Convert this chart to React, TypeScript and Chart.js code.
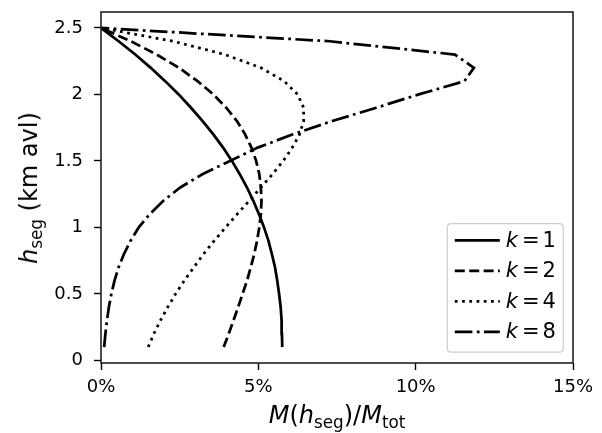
import React, { useEffect, useRef } from "react";
import { Chart, registerables } from "chart.js";

Chart.register(...registerables);

// Segment heights (km avl)
const heights = [0.1, 0.2, 0.3, 0.4, 0.5, 0.6, 0.7, 0.8, 0.9, 1.0, 1.1, 1.2, 1.3, 1.4, 1.5, 1.6, 1.7, 1.8, 1.9, 2.0, 2.1, 2.2, 2.3, 2.4, 2.5];

// M(h_seg)/M_tot in percent, one list per k
const massK1 = [5.76, 5.75, 5.74, 5.71, 5.66, 5.60, 5.53, 5.43, 5.32, 5.18, 5.02, 4.84, 4.64, 4.41, 4.16, 3.88, 3.57, 3.23, 2.86, 2.47, 2.04, 1.58, 1.09, 0.56, 0];
const massK2 = [3.90, 4.06, 4.21, 4.36, 4.50, 4.64, 4.76, 4.87, 4.96, 5.03, 5.08, 5.10, 5.08, 5.03, 4.93, 4.78, 4.58, 4.32, 3.98, 3.57, 3.07, 2.48, 1.77, 0.95, 0];
const massK4 = [1.50, 1.68, 1.89, 2.12, 2.37, 2.65, 2.95, 3.26, 3.60, 3.96, 4.33, 4.71, 5.08, 5.45, 5.79, 6.08, 6.31, 6.44, 6.44, 6.25, 5.82, 5.09, 3.94, 2.29, 0];
const massK8 = [0.10, 0.14, 0.19, 0.25, 0.33, 0.43, 0.56, 0.73, 0.94, 1.20, 1.55, 1.98, 2.52, 3.22, 4.10, 4.98, 6.10, 7.35, 8.75, 10.10, 11.55, 11.85, 11.25, 7.27, 0];

const kLabels = ["1", "2", "4", "8"];
const seriesValues = [massK1, massK2, massK4, massK8];

const xTicks = [0, 5, 10, 15];
const yTicks = [0, 0.5, 1, 1.5, 2, 2.5];

const FONT = '"DejaVu Sans", sans-serif';
const LW = 2.75;
const dashes = [[], [10, 4.4], [2.75, 4.5], [17.6, 4.4, 2.75, 4.4]];

const framePlugin = {
  id: "frame",
  afterDatasetsDraw(chart: any) {
    const { ctx, chartArea } = chart;
    ctx.save();
    ctx.strokeStyle = "#222";
    ctx.lineWidth = 1.6;
    ctx.setLineDash([]);
    ctx.strokeRect(chartArea.left, chartArea.top, chartArea.right - chartArea.left, chartArea.bottom - chartArea.top);
    ctx.restore();
  },
};

const legendPlugin = {
  id: "mplLegend",
  afterDraw(chart: any) {
    const { ctx, chartArea } = chart;
    const w = 116;
    const h = 128.5;
    const x0 = chartArea.right - 9.7 - w;
    const y0 = chartArea.bottom - 10.8 - h;
    const r = 4;
    ctx.save();
    ctx.beginPath();
    ctx.moveTo(x0 + r, y0);
    ctx.lineTo(x0 + w - r, y0);
    ctx.quadraticCurveTo(x0 + w, y0, x0 + w, y0 + r);
    ctx.lineTo(x0 + w, y0 + h - r);
    ctx.quadraticCurveTo(x0 + w, y0 + h, x0 + w - r, y0 + h);
    ctx.lineTo(x0 + r, y0 + h);
    ctx.quadraticCurveTo(x0, y0 + h, x0, y0 + h - r);
    ctx.lineTo(x0, y0 + r);
    ctx.quadraticCurveTo(x0, y0, x0 + r, y0);
    ctx.closePath();
    ctx.fillStyle = "rgba(255,255,255,0.85)";
    ctx.fill();
    ctx.strokeStyle = "#cccccc";
    ctx.lineWidth = 1.2;
    ctx.stroke();

    chart.data.datasets.forEach((ds: any, i: number) => {
      const cy = y0 + 16.7 + i * 30.5;
      ctx.beginPath();
      ctx.setLineDash(ds.borderDash || []);
      ctx.lineDashOffset = 0;
      ctx.lineWidth = ds.borderWidth;
      ctx.strokeStyle = "#000";
      ctx.lineCap = "butt";
      ctx.moveTo(x0 + 7.5, cy);
      ctx.lineTo(x0 + 52.5, cy);
      ctx.stroke();
      ctx.setLineDash([]);
      ctx.fillStyle = "#000";
      ctx.textBaseline = "middle";
      ctx.textAlign = "left";
      let tx = x0 + 58.5;
      ctx.font = `italic 21px ${FONT}`;
      ctx.fillText("k", tx, cy + 1);
      tx += ctx.measureText("k").width + 4;
      ctx.font = `21px ${FONT}`;
      ctx.fillText("=", tx, cy + 1);
      tx += ctx.measureText("=").width + 3;
      ctx.fillText(kLabels[i], tx, cy + 1);
    });
    ctx.restore();
  },
};

export default function App() {
  const canvasRef = useRef<HTMLCanvasElement | null>(null);

  useEffect(() => {
    const canvas = canvasRef.current;
    if (!canvas) return;
    const chart = new Chart(canvas, {
      type: "scatter",
      data: {
        datasets: seriesValues.map((vals, i) => ({
          label: `k = ${kLabels[i]}`,
          data: heights.map((hh, j) => ({ x: vals[j], y: hh })),
          showLine: true,
          borderColor: "#000",
          backgroundColor: "#000",
          borderWidth: LW,
          borderDash: dashes[i],
          borderCapStyle: "butt",
          pointRadius: 0,
          pointHoverRadius: 0,
          fill: false,
          tension: 0,
        })),
      },
      options: {
        responsive: false,
        animation: false,
        events: [],
        layout: { padding: { top: 12, right: 29, left: 0, bottom: 0 } },
        plugins: {
          legend: { display: false },
          tooltip: { enabled: false },
        },
        scales: {
          x: {
            type: "linear",
            min: 0,
            max: 15,
            afterFit(scale: any) {
              scale.height = 70;
              scale.paddingLeft = 0;
              scale.paddingRight = 0;
            },
            afterBuildTicks(scale: any) {
              scale.ticks = xTicks.map((v) => ({ value: v }));
            },
            ticks: {
              callback: (v: any) => `${v}%`,
              font: { family: FONT, size: 18 },
              color: "#000",
              padding: 7,
              maxRotation: 0,
              autoSkip: false,
            },
            grid: {
              drawOnChartArea: false,
              drawTicks: true,
              tickLength: 7,
              tickWidth: 1.4,
              tickColor: "#000",
              color: "#000",
            },
            border: { display: false },
          },
          y: {
            type: "linear",
            min: -0.02,
            max: 2.62,
            afterFit(scale: any) {
              scale.width = 101;
              scale.paddingTop = 0;
              scale.paddingBottom = 0;
            },
            afterBuildTicks(scale: any) {
              scale.ticks = yTicks.map((v) => ({ value: v }));
            },
            ticks: {
              callback: (v: any) => String(v),
              font: { family: FONT, size: 18 },
              color: "#000",
              padding: 11,
              autoSkip: false,
            },
            grid: {
              drawOnChartArea: false,
              drawTicks: true,
              tickLength: 7,
              tickWidth: 1.4,
              tickColor: "#000",
              color: "#000",
            },
            border: { display: false },
          },
        },
      } as any,
      plugins: [framePlugin, legendPlugin],
    });
    return () => chart.destroy();
  }, []);

  const titleStyle: React.CSSProperties = {
    position: "absolute",
    fontFamily: FONT,
    fontSize: 24,
    lineHeight: 1,
    color: "#000",
    whiteSpace: "nowrap",
  };
  const subStyle: React.CSSProperties = { fontSize: "0.7em", verticalAlign: "-0.3em", lineHeight: 0 };

  return (
    <div style={{ position: "absolute", left: 0, top: 0, width: 602, height: 433, background: "#fff", overflow: "hidden" }}>
      <canvas ref={canvasRef} width={602} height={433} style={{ display: "block", width: 602, height: 433 }} />
      <div style={{ ...titleStyle, left: 337, top: 403, transform: "translateX(-50%)" }}>
        <i>M</i>(<i>h</i>
        <span style={subStyle}>seg</span>)/<i>M</i>
        <span style={subStyle}>tot</span>
      </div>
      <div style={{ ...titleStyle, left: 29, top: 188, transform: "translate(-50%, -50%) rotate(-90deg)" }}>
        <i>h</i>
        <span style={subStyle}>seg</span> (km avl)
      </div>
    </div>
  );
}
